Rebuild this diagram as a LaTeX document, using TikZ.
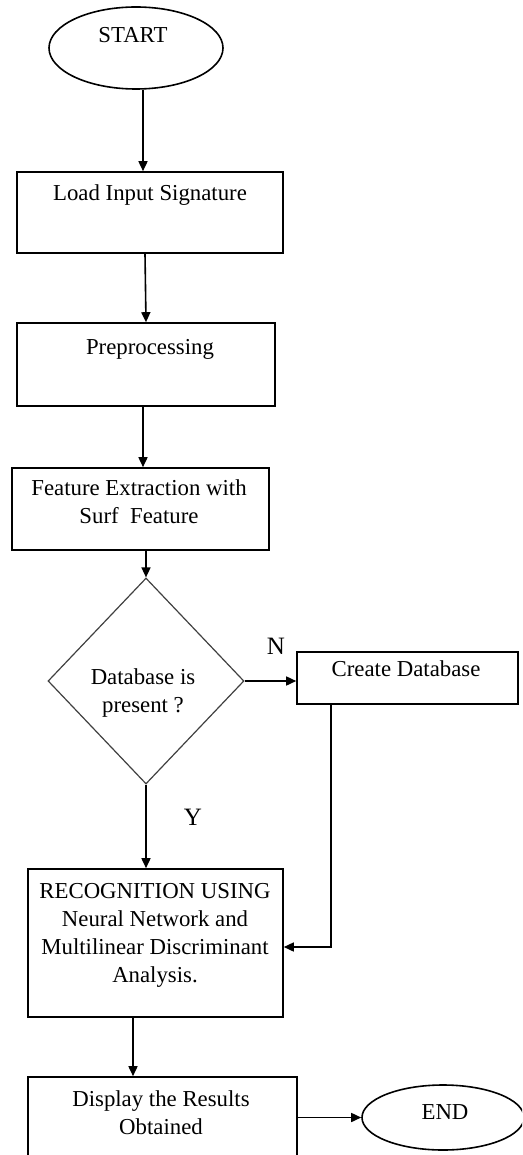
\documentclass[tikz,border=0pt]{standalone}
\usepackage{fontspec}
\setmainfont{Liberation Serif}
\usetikzlibrary{shapes.geometric,arrows.meta}
\begin{document}
\begin{tikzpicture}[x=1pt,y=-1pt,
  line width=1.6pt,
  every node/.style={font=\fontsize{22.8}{28}\selectfont},
  box/.style={draw,rectangle,inner sep=0pt},
  oval/.style={draw,ellipse,inner sep=0pt},
  dia/.style={draw,diamond,inner sep=0pt,line width=1.2pt,draw=black!75},
  txt/.style={align=center,inner sep=0pt},
  lbl/.style={inner sep=0pt,font=\fontsize{25}{28}\selectfont},
  arr/.style={-{Triangle[length=10pt,width=9pt]}}]
\useasboundingbox (0,0) rectangle (522,1155);
\clip (0,0) rectangle (522,1155);
% shapes
\node[oval,minimum width=174pt,minimum height=82pt] (start) at (136,48) {};
\node[box,minimum width=266pt,minimum height=81pt] (load) at (150,212.5) {};
\node[box,minimum width=258pt,minimum height=83pt] (pre) at (146,364.5) {};
\node[box,minimum width=257pt,minimum height=82pt] (feat) at (140.5,509) {};
\node[dia,minimum width=196pt,minimum height=206pt] (db) at (146,681) {};
\node[box,minimum width=221pt,minimum height=52pt] (cdb) at (407.5,678) {};
\node[box,minimum width=255pt,minimum height=148pt] (rec) at (155.5,943) {};
\node[box,minimum width=269pt,minimum height=90pt] (disp) at (162.5,1122) {};
\node[oval,minimum width=162pt,minimum height=65pt] (end) at (443,1117.5) {};
% texts
\node[txt] (tstart) at (133,35) {START};
\node[txt] (tload) at (150,195) {Load Input Signature};
\node[txt] (tpre) at (150,349) {Preprocessing};
\node[txt] (tfeat) at (139,502) {Feature Extraction with\\Surf~~Feature};
\node[txt] (tdb) at (143,693) {Database is\\present ?};
\node[txt] (tcdb) at (406,669) {Create Database};
\node[txt] (trec) at (155,935) {RECOGNITION USING\\Neural Network and\\Multilinear Discriminant\\Analysis.};
\node[txt] (tdisp) at (161,1113) {Display the Results\\Obtained};
\node[txt] (tend) at (445,1112) {END};
\node[lbl] (n) at (276,646) {N};
\node[lbl] (y) at (193,817) {Y};
% connectors
\draw[arr] ([xshift=7pt]start.south) -- ([xshift=-7pt]load.north);
\draw[arr] ([xshift=-5pt]load.south) -- (pre.north);
\draw[arr] ([xshift=-3pt]pre.south) -- ([xshift=2.5pt]feat.north);
\draw[arr] (feat.south -| db.north) -- (db.north);
\draw[arr] (db.east) -- (db.east -| cdb.west);
\draw[arr] (db.south) -- (db.south |- rec.north);
\draw[arr] ([xshift=-76.5pt]cdb.south) |- ([yshift=-4pt]rec.east);
\draw[arr] ([xshift=-22.5pt]rec.south) -- ([xshift=-29.5pt]disp.north);
\draw[arr] (end.west -| disp.east) -- (end.west);
\end{tikzpicture}
\end{document}
